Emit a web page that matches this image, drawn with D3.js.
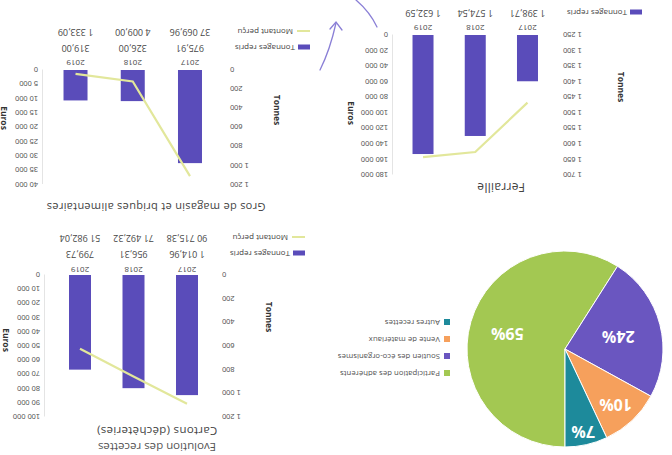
<!DOCTYPE html>
<html><head><meta charset="utf-8">
<script src="https://cdn.jsdelivr.net/npm/d3@7"></script>
<style>
html,body{margin:0;padding:0;background:#fff;}
svg{display:block;font-family:"Open Sans",sans-serif;}
</style></head>
<body><svg id="c" width="672" height="455"></svg>
<script>
// ---------- DATA ----------
const years = ["2017", "2018", "2019"];
const cartonsTonnes = [1014.96, 956.31, 799.73];
const cartonsEuros = [90715.38, 71492.32, 51982.04];
const grosTonnes = [975.91, 326.00, 319.00];
const grosEuros = [37069.96, 4009.00, 1333.09];
const ferrailleTonnes = [1398.71, 1574.54, 1632.59];
const ferrailleEuros = [87000, 150500, 157000]; // estimated from line
const cartonsTonneTicks = [0, 200, 400, 600, 800, 1000, 1200];
const cartonsEuroTicks = [0, 10000, 20000, 30000, 40000, 50000, 60000, 70000, 80000, 90000, 100000];
const grosTonneTicks = [0, 200, 400, 600, 800, 1000, 1200];
const grosEuroTicks = [0, 5000, 10000, 15000, 20000, 25000, 30000, 35000, 40000];
const ferrailleTonneTicks = [1250, 1300, 1350, 1400, 1450, 1500, 1550, 1600, 1650, 1700];
const ferrailleEuroTicks = [0, 20000, 40000, 60000, 80000, 100000, 120000, 140000, 160000, 180000];
const pieLabels = ["Participation des adhérents", "Soutien des éco-organismes", "Vente de matériaux", "Autres recettes"];
const pieValues = [59, 24, 10, 7];
const pieColors = ["#a3c852", "#6a56c0", "#f6a05c", "#1d8a9b"];
const seriesNames = ["Tonnages repris", "Montant perçu"];

// ---------- SETUP ----------
const fr = d3.formatLocale({decimal: ",", thousands: " ", grouping: [3], currency: ["", "€"]});
const fmt2 = fr.format(",.2f");
const fmt0 = fr.format(",d");
const BAR = "#5a4cba", LINE = "#e2e79b";

const svg = d3.select("#c");
// whole scanned page is upside down
const root = svg.append("g").attr("transform", "rotate(180,336,227.5)");

root.append("text").attr("x", 515).attr("y", 12).attr("text-anchor", "middle")
  .attr("font-size", 11.5).attr("fill", "#555").text("Evolution des recettes");

function combo(cfg) {
  const g = root.append("g");
  const x = d3.scalePoint().domain(years).range([cfg.x0, cfg.x1]).padding(0.5);
  const yT = d3.scaleLinear().domain(cfg.tDomain).range([cfg.yBase, cfg.yTop]);
  const yE = d3.scaleLinear().domain(cfg.eDomain).range([cfg.yBase, cfg.yTop]);

  const ra = g.append("g").attr("transform", `translate(${cfg.rightX},0)`)
    .call(d3.axisRight(yE).tickValues(cfg.eTicks).tickSize(0).tickPadding(5).tickFormat(fmt0));
  ra.select(".domain").attr("stroke", "#e4e4e4");
  ra.selectAll("text").attr("font-size", 7.5).attr("fill", "#555");

  const la = g.append("g").attr("transform", `translate(${cfg.leftX},0)`)
    .call(d3.axisLeft(yT).tickValues(cfg.tTicks).tickSize(0).tickPadding(3).tickFormat(fmt0));
  la.select(".domain").remove();
  la.selectAll("text").attr("font-size", 7.5).attr("fill", "#555");

  g.selectAll("rect.bar").data(cfg.tonnes).join("rect").attr("class", "bar")
    .attr("x", (d, i) => x(years[i]) - cfg.bw / 2)
    .attr("y", d => yT(d))
    .attr("width", cfg.bw)
    .attr("height", d => yT(cfg.tDomain[0]) - yT(d))
    .attr("fill", BAR);

  const line = d3.line().x((d, i) => x(years[i])).y(d => yE(d));
  g.append("path").datum(cfg.euros).attr("d", line)
    .attr("fill", "none").attr("stroke", LINE).attr("stroke-width", 2.2);

  g.append("text").attr("transform", `translate(${cfg.tTitle[0]},${cfg.tTitle[1]}) rotate(-90)`)
    .attr("text-anchor", "middle").attr("dominant-baseline", "middle")
    .attr("font-size", 8.5).attr("font-weight", "bold").attr("fill", "#333").text("Tonnes");
  g.append("text").attr("transform", `translate(${cfg.eTitle[0]},${cfg.eTitle[1]}) rotate(-90)`)
    .attr("text-anchor", "middle").attr("dominant-baseline", "middle")
    .attr("font-size", 8.5).attr("font-weight", "bold").attr("fill", "#333").text("Euros");

  g.append("text").attr("x", cfg.title[1]).attr("y", cfg.title[2]).attr("text-anchor", "middle")
    .attr("font-size", cfg.titleSize).attr("fill", "#444").attr("letter-spacing", 0.3).text(cfg.title[0]);

  g.selectAll("text.yr").data(years).join("text").attr("class", "yr")
    .attr("x", d => x(d)).attr("y", cfg.rows[0]).attr("text-anchor", "middle")
    .attr("dominant-baseline", "middle").attr("font-size", 8).attr("fill", "#444").text(d => d);
  g.selectAll("text.tv").data(cfg.tonnes).join("text").attr("class", "tv")
    .attr("x", (d, i) => x(years[i])).attr("y", cfg.rows[1]).attr("text-anchor", "middle")
    .attr("dominant-baseline", "middle").attr("font-size", 9).attr("fill", "#444").text(d => fmt2(d));
  if (cfg.rows[2] !== null) {
    g.selectAll("text.ev").data(cfg.euros).join("text").attr("class", "ev")
      .attr("x", (d, i) => x(years[i])).attr("y", cfg.rows[2]).attr("text-anchor", "middle")
      .attr("dominant-baseline", "middle").attr("font-size", 9).attr("fill", "#444").text(d => fmt2(d));
  }
  g.append("rect").attr("x", cfg.legX).attr("y", cfg.rows[1] - 2.5).attr("width", 12).attr("height", 5).attr("fill", BAR);
  g.append("text").attr("x", cfg.legX + 15).attr("y", cfg.rows[1]).attr("dominant-baseline", "middle")
    .attr("font-size", 8).attr("fill", "#444").text(seriesNames[0]);
  if (cfg.rows[2] !== null) {
    g.append("line").attr("x1", cfg.legX).attr("x2", cfg.legX + 13).attr("y1", cfg.rows[2]).attr("y2", cfg.rows[2])
      .attr("stroke", LINE).attr("stroke-width", 2);
    g.append("text").attr("x", cfg.legX + 17).attr("y", cfg.rows[2]).attr("dominant-baseline", "middle")
      .attr("font-size", 8).attr("fill", "#444").text(seriesNames[1]);
  }
}

combo({
  tonnes: cartonsTonnes, euros: cartonsEuros, x0: 458.25, x1: 618.75, bw: 22,
  yBase: 180, yTop: 38, tDomain: [0, 1200], eDomain: [0, 100000],
  tTicks: cartonsTonneTicks, eTicks: cartonsEuroTicks, leftX: 453, rightX: 627,
  rows: [186, 202, 218], legX: 367, tTitle: [404, 138], eTitle: [667, 115],
  title: ["Cartons (déchèteries)", 515, 28], titleSize: 11.5
});
combo({
  tonnes: grosTonnes, euros: grosEuros, x0: 453.4, x1: 625.1, bw: 24,
  yBase: 385, yTop: 270.5, tDomain: [0, 1200], eDomain: [0, 40000],
  tTicks: grosTonneTicks, eTicks: grosEuroTicks, leftX: 445, rightX: 629,
  rows: [393, 408, 424], legX: 362, tTitle: [396, 345], eTitle: [669, 337],
  title: ["Gros de magasin et briques alimentaires", 516, 252], titleSize: 11
});
combo({
  tonnes: ferrailleTonnes, euros: ferrailleEuros, x0: 118.4, x1: 275.1, bw: 21,
  yBase: 420, yTop: 280, tDomain: [1250, 1700], eDomain: [0, 180000],
  tTicks: ferrailleTonneTicks, eTicks: ferrailleEuroTicks, leftX: 112, rightX: 279,
  rows: [428, 443, null], legX: 30, tTitle: [52, 368], eTitle: [322, 342],
  title: ["Ferraille", 171, 272], titleSize: 12
});

// ---------- PIE ----------
const pieLabelRadius = [60, 55, 74, 83];
const pg = root.append("g").attr("transform", "translate(107,106)");
const pie = d3.pie().sort(null).value(d => d)(pieValues);
const arc = d3.arc().innerRadius(0).outerRadius(98);
pg.selectAll("path").data(pie).join("path").attr("d", arc)
  .attr("fill", (d, i) => pieColors[i]).attr("stroke", "#fff").attr("stroke-width", 1);
pg.selectAll("text").data(pie).join("text")
  .attr("transform", (d, i) => {
    const r = pieLabelRadius[i];
    const c = d3.arc().innerRadius(r).outerRadius(r).centroid(d);
    return `translate(${c})`;
  })
  .attr("text-anchor", "middle").attr("dominant-baseline", "middle")
  .attr("font-size", 16).attr("font-weight", "bold").attr("fill", "#fff")
  .text(d => d.data + "%");

const lg = root.append("g");
pieLabels.forEach((l, i) => {
  const y = 82 + i * 17;
  lg.append("rect").attr("x", 222).attr("y", y - 3).attr("width", 6).attr("height", 6).attr("fill", pieColors[i]);
  lg.append("text").attr("x", 232).attr("y", y).attr("dominant-baseline", "middle")
    .attr("font-size", 7.8).attr("fill", "#555").text(l);
});

// ---------- hand-drawn arrow ----------
const ar = root.append("g").attr("fill", "none").attr("stroke", "#8a7fd6").attr("stroke-width", 1.3).attr("stroke-linecap", "round");
ar.append("path").attr("d", "M352,385 Q342,405 336,432");
ar.append("path").attr("d", "M330,425 L336,433 L342,426");
ar.append("path").attr("d", "M295,428 Q302,443 316,455");
</script></body></html>
